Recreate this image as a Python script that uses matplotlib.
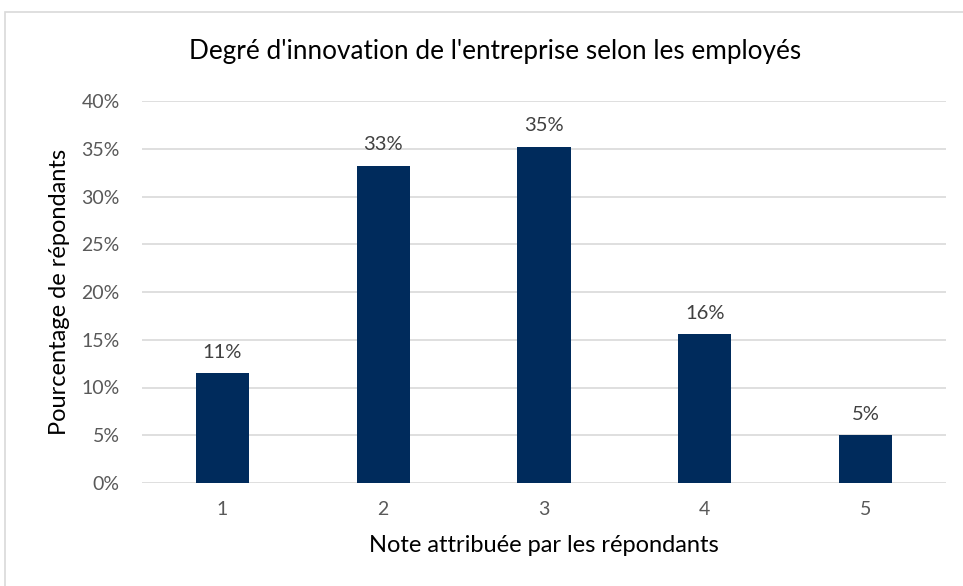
import matplotlib
matplotlib.use("Agg")
import matplotlib.pyplot as plt
from matplotlib.patches import Rectangle

notes = [1, 2, 3, 4, 5]
pourcentages = [11.5, 33.2, 35.2, 15.6, 5.0]
etiquettes = ["11%", "33%", "35%", "16%", "5%"]
yticks = [0, 5, 10, 15, 20, 25, 30, 35, 40]

plt.rcParams["font.family"] = ["Lato", "DejaVu Sans"]

fig = plt.figure(figsize=(9.63, 5.86), dpi=100)
ax = fig.add_axes([142 / 963, 1 - 483 / 586, (946 - 142) / 963, (483 - 101) / 586])

# chart frame
fig.patches.append(Rectangle((5 / 963, -0.01), 1.0, 1 - 12 / 586 + 0.01,
                             transform=fig.transFigure, fill=False,
                             edgecolor="#d9d9d9", linewidth=1.2))

ax.bar(notes, pourcentages, width=0.33, color="#002b5c", zorder=3)
for x, v, lab in zip(notes, pourcentages, etiquettes):
    ax.annotate(lab, (x, v), xytext=(0, 9), textcoords="offset points",
                ha="center", va="bottom", fontsize=14.5, color="#404040")

ax.set_xlim(0.5, 5.5)
ax.set_ylim(0, 40)
ax.set_yticks(yticks)
ax.set_yticklabels([f"{t}%" for t in yticks])
ax.set_xticks(notes)
ax.tick_params(axis="both", length=0, labelsize=14, labelcolor="#595959")
ax.tick_params(axis="x", pad=13)
ax.tick_params(axis="y", pad=16)
ax.grid(axis="y", color="#d9d9d9", linewidth=1.2, zorder=0)
for s in ax.spines.values():
    s.set_visible(False)

ax.set_xlabel("Note attribuée par les répondants", fontsize=17, labelpad=12)
ax.set_ylabel("Pourcentage de répondants", fontsize=17, labelpad=8)
fig.text(495 / 963, 1 - 52 / 586, "Degré d'innovation de l'entreprise selon les employés",
         ha="center", va="center", fontsize=18.8)

fig.savefig("out.png", dpi=100)
